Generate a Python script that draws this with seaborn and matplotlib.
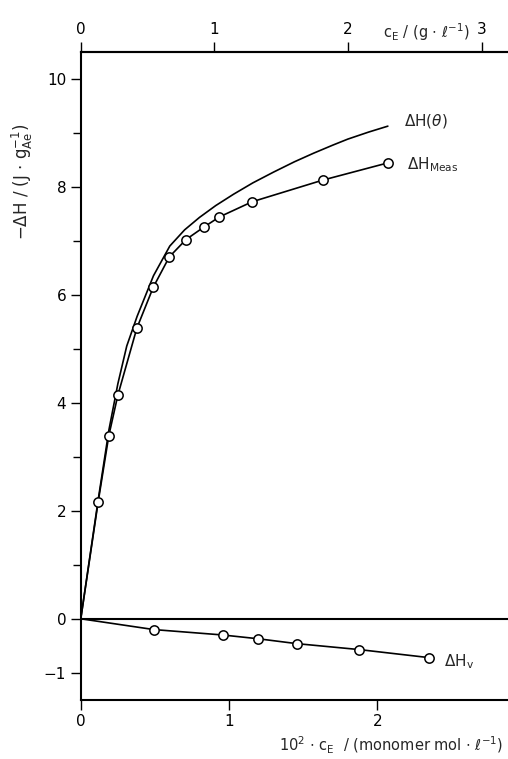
import numpy as np
import pandas as pd
import matplotlib.pyplot as plt
import seaborn as sns

# Values
# x: 10^2 * c_E in monomer mol / l
meas_x = [0.117, 0.189, 0.25, 0.378, 0.489, 0.597, 0.709, 0.829, 0.935, 1.155, 1.63, 2.07]
meas_y = [2.16, 3.39, 4.14, 5.38, 6.14, 6.70, 7.02, 7.25, 7.44, 7.72, 8.12, 8.44]

theta_x = [0.0, 0.12, 0.19, 0.25, 0.31, 0.38, 0.49, 0.60, 0.70, 0.80, 0.91, 1.03,
           1.16, 1.30, 1.44, 1.57, 1.70, 1.80, 1.94, 2.07]
theta_y = [0.0, 2.25, 3.5, 4.35, 5.05, 5.6, 6.35, 6.9, 7.2, 7.43, 7.65, 7.86,
           8.07, 8.27, 8.46, 8.62, 8.77, 8.88, 9.01, 9.12]

v_x = [0.493, 0.957, 1.196, 1.455, 1.876, 2.35]
v_y = [-0.20, -0.30, -0.37, -0.46, -0.57, -0.72]

# top axis c_E in g/l is proportional to the bottom one
top_factor = 1.11

sns.set_style("ticks")
plt.rcParams['font.family'] = ['DejaVu Sans']
plt.rcParams['mathtext.fontset'] = 'dejavusans'

fig = plt.figure(figsize=(5.08, 7.59), dpi=100)
ax = fig.add_axes([0.159, 0.078, 0.841, 0.854])

# lines start at the origin, markers only on measured points
df_meas = pd.DataFrame({'x': [0.0] + meas_x, 'y': [0.0] + meas_y})
df_theta = pd.DataFrame({'x': theta_x, 'y': theta_y})
df_v = pd.DataFrame({'x': [0.0] + v_x, 'y': [0.0] + v_y})

sns.lineplot(data=df_theta, x='x', y='y', color='black', lw=1.2, ax=ax)
sns.lineplot(data=df_meas, x='x', y='y', color='black', lw=1.2, ax=ax)
sns.lineplot(data=df_v, x='x', y='y', color='black', lw=1.2, ax=ax)

sns.scatterplot(x=meas_x, y=meas_y, s=45, color='white', edgecolor='black',
                linewidth=1.1, zorder=5, ax=ax)
sns.scatterplot(x=v_x, y=v_y, s=45, color='white', edgecolor='black',
                linewidth=1.1, zorder=5, ax=ax)

ax.axhline(0, color='black', lw=1.5)

ax.set_xlim(0, 2.88)
ax.set_ylim(-1.5, 10.5)
ax.set_xticks([0, 1, 2])
ax.set_yticks([-1, 0, 2, 4, 6, 8, 10])
ax.set_yticks([1, 3, 5, 7, 9], minor=True)
ax.tick_params(axis='both', labelsize=11, width=1, length=7, color='black', labelcolor='black')
ax.tick_params(axis='y', which='minor', length=6, width=1, color='black')
ax.set_xlabel('')
ax.set_ylabel('')

for side in ['left', 'bottom', 'top']:
    ax.spines[side].set_linewidth(1.5)
    ax.spines[side].set_color('black')
ax.spines['right'].set_visible(False)

# top axis in g/l
top = ax.secondary_xaxis('top', functions=(lambda x: x * top_factor, lambda x: x / top_factor))
top.set_xticks([0, 1, 2, 3])
top.tick_params(labelsize=11, length=7, width=1, color='black', labelcolor='black')
top.spines['top'].set_linewidth(1.5)

# labels
ax.text(2.18, 9.22, r'$\Delta$H($\theta$)', fontsize=11, va='center', ha='left')
ax.text(2.2, 8.4, r'$\Delta$H$_{\mathrm{Meas}}$', fontsize=11, va='center', ha='left')
ax.text(2.45, -0.8, r'$\Delta$H$_{\mathrm{v}}$', fontsize=11, va='center', ha='left')

fig.text(0.045, 0.76, r'$-\Delta$H / (J $\cdot$ g$_{\mathrm{Ae}}^{-1}$)', rotation=90,
         fontsize=12, ha='center', va='center')
fig.text(0.925, 0.958, r'c$_{\mathrm{E}}$ / (g $\cdot$ ℓ$^{-1}$)', fontsize=10.5,
         ha='right', va='center')
fig.text(0.99, 0.018, r'10$^2$ $\cdot$ c$_{\mathrm{E}}$  / (monomer mol $\cdot$ ℓ$^{-1}$)',
         fontsize=10.5, ha='right', va='center')

fig.savefig('out.png', dpi=100)
